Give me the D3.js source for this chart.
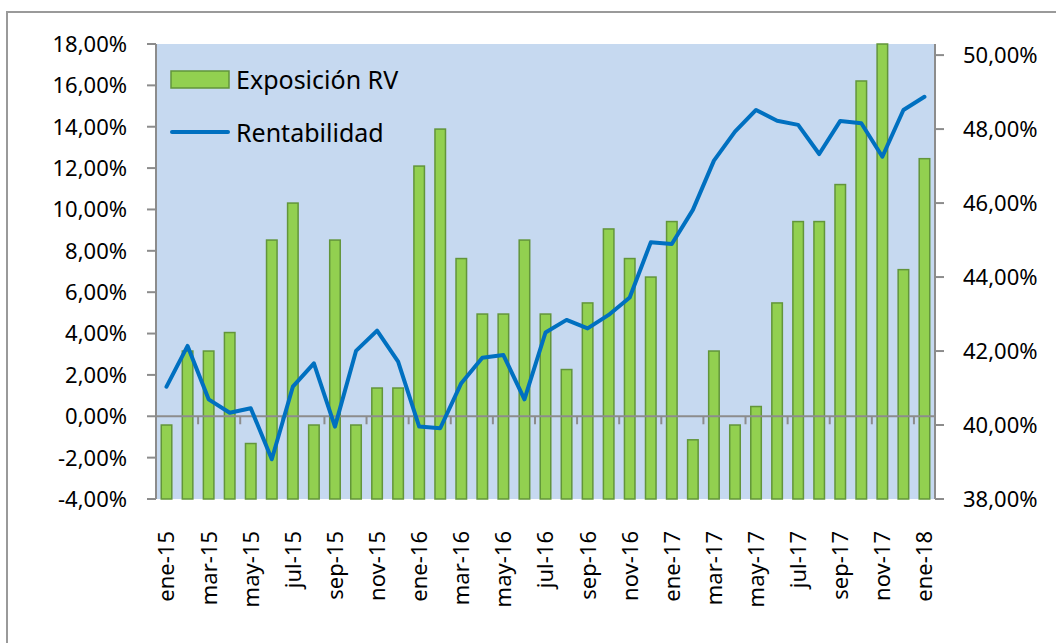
<!DOCTYPE html>
<html>
<head>
<meta charset="utf-8">
<script src="https://cdn.jsdelivr.net/npm/d3@7"></script>
<style>
  body { margin: 0; background: #fff; }
  svg { display: block; font-family: "Noto Sans", "Open Sans", sans-serif; }
</style>
</head>
<body>
<div id="chart"></div>
<script>
// months (every category, labels only shown every 2nd one)
const months = ["ene-15","feb-15","mar-15","abr-15","may-15","jun-15","jul-15","ago-15","sep-15","oct-15","nov-15","dic-15",
                "ene-16","feb-16","mar-16","abr-16","may-16","jun-16","jul-16","ago-16","sep-16","oct-16","nov-16","dic-16",
                "ene-17","feb-17","mar-17","abr-17","may-17","jun-17","jul-17","ago-17","sep-17","oct-17","nov-17","dic-17",
                "ene-18"];

// Exposición RV (right axis, %)
const exposicion = [40.0, 42.0, 42.0, 42.5, 39.5, 45.0, 46.0, 40.0, 45.0, 40.0, 41.0, 41.0,
                    47.0, 48.0, 44.5, 43.0, 43.0, 45.0, 43.0, 41.5, 43.3, 45.3, 44.5, 44.0,
                    45.5, 39.6, 42.0, 40.0, 40.5, 43.3, 45.5, 45.5, 46.5, 49.3, 50.3, 44.2,
                    47.2];

// Rentabilidad (left axis, %)
const rentabilidad = [1.43, 3.40, 0.82, 0.17, 0.39, -2.08, 1.43, 2.56, -0.50, 3.16, 4.14, 2.64,
                      -0.50, -0.58, 1.60, 2.83, 2.96, 0.82, 4.05, 4.66, 4.25, 4.90, 5.74, 8.41,
                      8.33, 9.98, 12.36, 13.76, 14.81, 14.29, 14.09, 12.68, 14.28, 14.17, 12.55, 14.81,
                      15.45];

const leftTicks = [-4, -2, 0, 2, 4, 6, 8, 10, 12, 14, 16, 18];
const rightTicks = [38, 40, 42, 44, 46, 48, 50];

const fmt = v => v.toFixed(2).replace(".", ",") + "%";

const W = 1056, H = 643;
const plot = {left: 156, right: 935, top: 44, bottom: 499};

const svg = d3.select("#chart").append("svg")
    .attr("width", W)
    .attr("height", H);

// chart frame
svg.append("rect")
    .attr("x", 7).attr("y", 12)
    .attr("width", 1200).attr("height", 800)
    .attr("fill", "#fff")
    .attr("stroke", "#9a9a9a")
    .attr("stroke-width", 2);

// plot background
svg.append("rect")
    .attr("x", plot.left).attr("y", plot.top)
    .attr("width", plot.right - plot.left)
    .attr("height", plot.bottom - plot.top)
    .attr("fill", "#c6d9f0");

const x = d3.scaleBand()
    .domain(months)
    .range([plot.left, plot.right])
    .paddingInner(0.5)
    .paddingOuter(0.25);

const yLeft = d3.scaleLinear().domain([-4, 18]).range([plot.bottom, plot.top]);
const yRight = d3.scaleLinear().domain([38, 50.3]).range([plot.bottom, plot.top]);

// bars (drawn from the axis minimum)
svg.append("g")
    .selectAll("rect")
    .data(exposicion)
    .enter().append("rect")
    .attr("x", (d, i) => x(months[i]))
    .attr("width", x.bandwidth())
    .attr("y", d => yRight(d))
    .attr("height", d => plot.bottom - yRight(d))
    .attr("fill", "#92d050")
    .attr("stroke", "#62953a")
    .attr("stroke-width", 1.5);

// zero line with category ticks
const zeroY = yLeft(0);
svg.append("line")
    .attr("x1", plot.left).attr("x2", plot.right)
    .attr("y1", zeroY).attr("y2", zeroY)
    .attr("stroke", "#8c8c8c").attr("stroke-width", 2);

const step = x.step();
svg.append("g")
    .selectAll("line")
    .data(d3.range(2, months.length, 2))
    .enter().append("line")
    .attr("x1", i => plot.left + i * step)
    .attr("x2", i => plot.left + i * step)
    .attr("y1", zeroY).attr("y2", zeroY + 8)
    .attr("stroke", "#8c8c8c").attr("stroke-width", 2);

// line
const line = d3.line()
    .x((d, i) => x(months[i]) + x.bandwidth() / 2)
    .y(d => yLeft(d));

svg.append("path")
    .datum(rentabilidad)
    .attr("d", line)
    .attr("fill", "none")
    .attr("stroke", "#0070c0")
    .attr("stroke-width", 4)
    .attr("stroke-linejoin", "round")
    .attr("stroke-linecap", "round");

// left axis
const leftAxis = svg.append("g");
leftAxis.append("line")
    .attr("x1", plot.left).attr("x2", plot.left)
    .attr("y1", plot.top).attr("y2", plot.bottom)
    .attr("stroke", "#8c8c8c").attr("stroke-width", 2);
leftAxis.selectAll("line.tick")
    .data(leftTicks)
    .enter().append("line")
    .attr("class", "tick")
    .attr("x1", plot.left - 9).attr("x2", plot.left)
    .attr("y1", d => yLeft(d)).attr("y2", d => yLeft(d))
    .attr("stroke", "#8c8c8c").attr("stroke-width", 2);
leftAxis.selectAll("text")
    .data(leftTicks)
    .enter().append("text")
    .attr("x", 127)
    .attr("y", d => yLeft(d))
    .attr("dy", "0.36em")
    .attr("text-anchor", "end")
    .style("font-size", "22px")
    .text(fmt);

// right axis
const rightAxis = svg.append("g");
rightAxis.append("line")
    .attr("x1", plot.right).attr("x2", plot.right)
    .attr("y1", plot.top).attr("y2", plot.bottom)
    .attr("stroke", "#8c8c8c").attr("stroke-width", 2);
rightAxis.selectAll("line.tick")
    .data(rightTicks)
    .enter().append("line")
    .attr("class", "tick")
    .attr("x1", plot.right).attr("x2", plot.right + 9)
    .attr("y1", d => yRight(d)).attr("y2", d => yRight(d))
    .attr("stroke", "#8c8c8c").attr("stroke-width", 2);
rightAxis.selectAll("text")
    .data(rightTicks)
    .enter().append("text")
    .attr("x", 963)
    .attr("y", d => yRight(d))
    .attr("dy", "0.36em")
    .attr("text-anchor", "start")
    .style("font-size", "22px")
    .text(fmt);

// category labels, every second month
svg.append("g")
    .selectAll("text")
    .data(months.filter((d, i) => i % 2 === 0))
    .enter().append("text")
    .attr("transform", d => "translate(" + (x(d) + x.bandwidth() / 2) + ",531)rotate(-90)")
    .attr("dy", "0.36em")
    .attr("text-anchor", "end")
    .style("font-size", "22px")
    .text(d => d);

// legend
const legend = svg.append("g");
legend.append("rect")
    .attr("x", 171).attr("y", 71)
    .attr("width", 58).attr("height", 17)
    .attr("fill", "#92d050")
    .attr("stroke", "#62953a")
    .attr("stroke-width", 1.5);
legend.append("text")
    .attr("x", 236).attr("y", 80)
    .attr("dy", "0.36em")
    .style("font-size", "25px")
    .text("Exposición RV");
legend.append("line")
    .attr("x1", 172).attr("x2", 228)
    .attr("y1", 132).attr("y2", 132)
    .attr("stroke", "#0070c0")
    .attr("stroke-width", 4)
    .attr("stroke-linecap", "round");
legend.append("text")
    .attr("x", 236).attr("y", 133)
    .attr("dy", "0.36em")
    .style("font-size", "25px")
    .text("Rentabilidad");
</script>
</body>
</html>
